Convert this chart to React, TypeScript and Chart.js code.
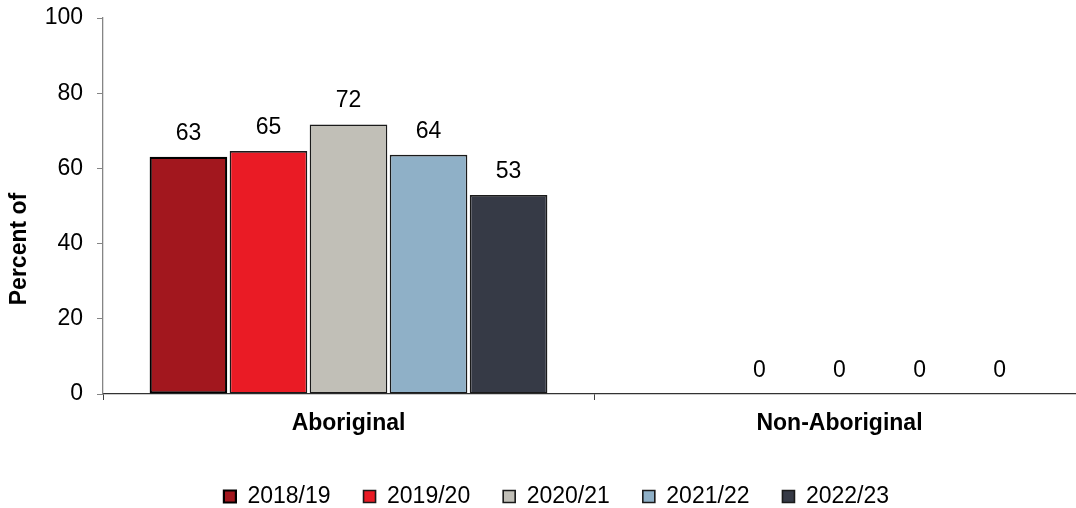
import React, { useEffect, useRef } from "react";
import { Chart, registerables } from "chart.js";

Chart.register(...registerables);

const FONT = "'Liberation Sans', Arial, sans-serif";

const categories = ["Aboriginal", "Non-Aboriginal"];
const seriesLabels = ["2018/19", "2019/20", "2020/21", "2021/22", "2022/23"];
const values2018 = [63.1, null];
const values2019 = [64.6, 0];
const values2020 = [71.7, 0];
const values2021 = [63.6, 0];
const values2022 = [52.9, 0];
const seriesValues = [values2018, values2019, values2020, values2021, values2022];
const seriesColors = ["#A2171E", "#EA1B25", "#C1BFB7", "#8FB0C7", "#363A46"];
const yTicks = [0, 20, 40, 60, 80, 100];
const yAxisTitle = "Percent of";

const dataLabelPlugin = {
  id: "dataLabels",
  afterDatasetsDraw(chart: any) {
    const ctx = chart.ctx;
    ctx.save();
    ctx.font = `23px ${FONT}`;
    ctx.fillStyle = "#000";
    ctx.textAlign = "center";
    ctx.textBaseline = "alphabetic";
    chart.data.datasets.forEach((ds: any, i: number) => {
      const meta = chart.getDatasetMeta(i);
      meta.data.forEach((el: any, j: number) => {
        const v = ds.data[j];
        if (v === null || v === undefined) return;
        ctx.fillText(String(Math.round(v)), el.x, el.y - 17);
      });
    });
    ctx.restore();
  },
};

const yTitlePlugin = {
  id: "yTitle",
  afterDraw(chart: any) {
    const ctx = chart.ctx;
    ctx.save();
    ctx.translate(26, 249);
    ctx.rotate(-Math.PI / 2);
    ctx.font = `bold 23px ${FONT}`;
    ctx.fillStyle = "#000";
    ctx.textAlign = "center";
    ctx.textBaseline = "alphabetic";
    ctx.fillText(yAxisTitle, 0, 0);
    ctx.restore();
  },
};

export default function App() {
  const ref = useRef<HTMLCanvasElement | null>(null);

  useEffect(() => {
    if (!ref.current) return;
    const chart = new Chart(ref.current, {
      type: "bar",
      data: {
        labels: categories,
        datasets: seriesLabels.map((label, i) => ({
          label,
          data: seriesValues[i],
          backgroundColor: seriesColors[i],
          borderColor: i === 0 ? "#000" : "#1a1a1a",
          borderWidth: i === 0 ? 2.2 : 1.6,
          borderSkipped: false,
          categoryPercentage: 0.815,
          barPercentage: 0.97,
        })),
      },
      options: {
        animation: false,
        responsive: false,
        devicePixelRatio: 1,
        layout: { padding: { left: 28, right: 1, top: 18, bottom: 0 } },
        plugins: {
          tooltip: { enabled: false },
          title: { display: false },
          legend: {
            position: "bottom",
            labels: {
              boxWidth: 12,
              boxHeight: 12,
              padding: 33,
              color: "#000",
              font: { size: 23, family: FONT },
            },
          },
        },
        scales: {
          x: {
            grid: {
              display: true,
              drawOnChartArea: false,
              drawTicks: true,
              tickLength: 6,
              color: "#404040",
              offset: true,
            },
            border: { display: true, color: "#333", width: 1.3 },
            ticks: {
              color: "#000",
              padding: 10,
              font: { size: 23, weight: "bold", family: FONT },
            },
            afterFit(scale: any) {
              scale.height = 58;
            },
          },
          y: {
            min: 0,
            max: 100,
            afterBuildTicks(scale: any) {
              scale.ticks = yTicks.map((v) => ({ value: v }));
            },
            grid: {
              display: true,
              drawOnChartArea: false,
              drawTicks: true,
              tickLength: 6,
              color: "#858585",
            },
            border: { display: true, color: "#858585", width: 1.3 },
            ticks: {
              color: "#000",
              padding: 14,
              font: { size: 23, family: FONT },
            },
            afterFit(scale: any) {
              scale.width = 75;
              scale.paddingTop = 0;
              scale.paddingBottom = 0;
            },
          },
        },
      },
      plugins: [dataLabelPlugin, yTitlePlugin],
    });
    return () => chart.destroy();
  }, []);

  return (
    <div
      style={{
        position: "fixed",
        left: 0,
        top: 0,
        width: 1076,
        height: 508,
        overflow: "hidden",
        background: "#fff",
      }}
    >
      <canvas
        ref={ref}
        width={1086}
        height={518}
        style={{ display: "block", width: 1086, height: 518 }}
      />
    </div>
  );
}
